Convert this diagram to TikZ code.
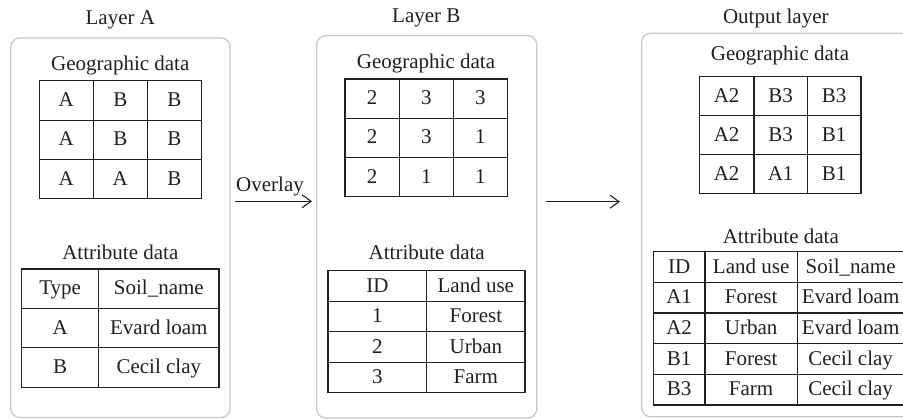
\documentclass[tikz,border=0pt]{standalone}
\usepackage{fontspec}
\setmainfont{Liberation Serif}
\usetikzlibrary{arrows.meta}

\definecolor{ink}{HTML}{231F20}
\definecolor{frame}{HTML}{C8C8C8}

\tikzset{
  txt/.style={font=\fontsize{21}{24}\selectfont, text=ink, inner sep=0pt},
  heading/.style={txt, anchor=base},
  cell/.style={txt, draw=ink, line width=1.1pt, text height=13.9pt, text depth=1.5pt},
  layerbox/.style={draw=frame, line width=1.3pt, rounded corners=9pt, inner sep=0pt},
  flow/.style={draw=ink, line width=1.1pt, -{Straight Barb[length=9pt,width=13pt,line width=1.1pt]}}
}

% #1 name prefix, #2 column edges, #3 top edge, #4 row height, #5 rows of cells
\newcommand\celltable[5]{%
  \foreach \row [count=\ri] in {#5} {
    \foreach \v [count=\ci] in \row {
      \pgfmathsetmacro\xa{{#2}[\ci-1]}
      \pgfmathsetmacro\xb{{#2}[\ci]}
      \node[cell, minimum width=\xb-\xa, minimum height=#4]
        (#1\ri-\ci) at ({(\xa+\xb)/2},{#3+#4*(\ri-0.5)}) {\v};
    }
  }%
}

\begin{document}
\begin{tikzpicture}[x=1pt, y=-1pt]
\useasboundingbox (0,0) rectangle (903,419);
\clip (0,0) rectangle (903,419);

% layer frames
\node[layerbox, minimum width=219.3, minimum height=379.5] (boxA) at (120.35,227.75) {};
\node[layerbox, minimum width=220, minimum height=382.3] (boxB) at (426.7,226.85) {};
\node[layerbox, minimum width=290, minimum height=383.4] (boxO) at (786.7,225) {};

% titles
\node[heading] (tA) at (120.3,24.3) {Layer A};
\node[heading] (tB) at (426.3,22.7) {Layer B};
\node[heading] (tO) at (775.8,23.3) {Output layer};

% Layer A
\node[heading] (gdA) at (120.3,70.7) {Geographic data};
\celltable{gA}{39.3,93.3,147.3,201.3}{80.7}{39.4}{{A,B,B},{A,B,B},{A,A,B}}
\node[heading] (adA) at (120.3,259.3) {Attribute data};
\celltable{aA}{21.7,98.7,219}{269}{39.4}{{Type,Soil\_name},{A,Evard loam},{B,Cecil clay}}

% Layer B
\node[heading] (gdB) at (426,68.3) {Geographic data};
\celltable{gB}{345,399.3,453.3,507.3}{79}{39.2}{{2,3,3},{2,3,1},{2,1,1}}
\node[heading] (adB) at (426.7,260) {Attribute data};
\celltable{aB}{328,426.7,525}{270.7}{30.5}{{ID,Land use},{1,Forest},{2,Urban},{3,Farm}}

% Output layer
\node[heading] (gdO) at (780,61) {Geographic data};
\celltable{gO}{699.3,754,807.3,861}{76.7}{38.9}{{A2,B3,B3},{A2,B3,B1},{A2,A1,B1}}
\node[heading] (adO) at (780.8,243.3) {Attribute data};
\celltable{aO}{653.3,705,797.3,904}{251.7}{30.66}{{ID,Land use,Soil\_name},{A1,Forest,Evard loam},{A2,Urban,Evard loam},{B1,Forest,Cecil clay},{B3,Farm,Cecil clay}}

% connectors between the layers
\coordinate (ovS) at (235,201.3);
\coordinate (ovE) at (312,201.3);
\coordinate (outS) at (546,201.7);
\coordinate (outE) at (620,201.7);
\draw[flow] (ovS) -- (ovE);
\node[heading] (ovl) at (270,191.7) {Overlay};
\draw[flow] (outS) -- (outE);
\end{tikzpicture}
\end{document}
